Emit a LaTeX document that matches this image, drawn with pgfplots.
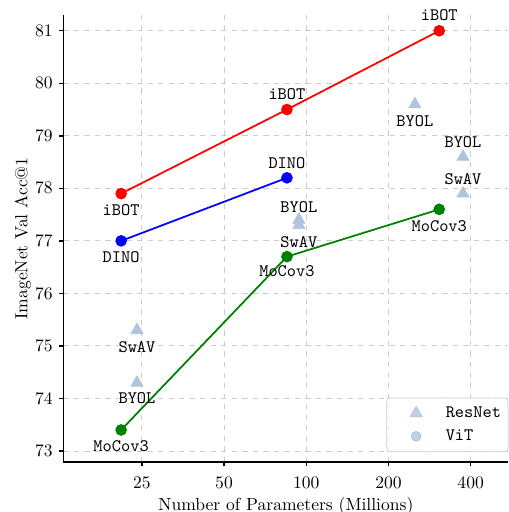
\documentclass[border=0pt]{standalone}
\usepackage{pgfplots}
\pgfplotsset{compat=1.18}
\definecolor{lsb}{RGB}{176,196,222}
\definecolor{gridc}{RGB}{204,204,204}
\definecolor{mplgreen}{RGB}{0,128,0}
\pgfplotsset{padmark/.style={legend image code/.code={\path[draw=none,fill=none] (-14.8pt,0pt) rectangle (4pt,0.1pt); \draw[##1, only marks] plot coordinates {(0pt,0pt)};}}}
\begin{document}
\begin{tikzpicture}
\begin{axis}[
 name=ax,
 scale only axis, width=253.7pt, height=254.8pt,
 xmode=log, log basis x=2,
 xmin=12.9, xmax=550, ymin=72.79, ymax=81.3,
 xtick={25,50,100,200,400}, xticklabels={25,50,100,200,400},
 ytick={73,74,75,76,77,78,79,80,81},
 axis x line*=bottom, axis y line*=left,
 axis line style={-, line width=0.8pt},
 tick align=outside, major tick length=2.5pt,
 tick style={black, line width=0.8pt},
 xticklabel style={yshift=-2.3pt},
 xlabel shift=-2.3pt,
 ylabel shift=-4.5pt,
 grid=major, major grid style={gridc, dashed, line width=0.5pt},
 xlabel={Number of Parameters (Millions)},
 ylabel={ImageNet Val Acc@1},
 legend style={at={(1,0.022)}, anchor=south east, draw=black!20, rounded corners=2pt,
   fill=white, fill opacity=0.8, text opacity=1, font=\ttfamily, row sep=1.5pt,
   inner xsep=2pt, inner ysep=3pt,
   /tikz/every odd column/.append style={column sep=10.9pt}},
 legend cell align=left,
 clip=false,
]
\addlegendimage{lsb, mark=triangle*, mark size=4pt, padmark}
\addlegendentry{ResNet}
\addlegendimage{lsb, mark=*, mark size=2.8pt, padmark}
\addlegendentry{ViT\hphantom{Net}}

\addplot[only marks, mark=triangle*, mark size=4pt, color=lsb] coordinates {
 (24,74.3) (24,75.3) (94,77.4) (94,77.3) (250,79.6) (375,78.6) (375,77.9)};

\addplot[red, line width=1pt, mark=*, mark size=2.8pt] coordinates {(21,77.9) (85,79.5) (307,81.0)};
\addplot[blue, line width=1pt, mark=*, mark size=2.8pt] coordinates {(21,77.0) (85,78.2)};
\addplot[mplgreen, line width=1pt, mark=*, mark size=2.8pt] coordinates {(21,73.4) (85,76.7) (307,77.6)};

\begin{scope}[every node/.style={font=\ttfamily}]
\node[yshift=-9.5pt] at (axis cs:21,77.9) {iBOT};
\node[yshift=8.5pt] at (axis cs:85,79.5) {iBOT};
\node[yshift=9pt] at (axis cs:307,81.0) {iBOT};
\node[yshift=-9pt] at (axis cs:21,77.0) {DINO};
\node[yshift=8.5pt] at (axis cs:85,78.2) {DINO};
\node[yshift=-9.5pt] at (axis cs:21,73.4) {MoCov3};
\node[yshift=-8.5pt] at (axis cs:85,76.7) {MoCov3};
\node[yshift=-9.5pt] at (axis cs:307,77.6) {MoCov3};
\node[yshift=-9.5pt] at (axis cs:24,75.3) {SwAV};
\node[yshift=-9pt] at (axis cs:24,74.3) {BYOL};
\node[yshift=7.5pt] at (axis cs:94,77.4) {BYOL};
\node[yshift=-9.5pt] at (axis cs:94,77.3) {SwAV};
\node[yshift=-9.5pt] at (axis cs:250,79.6) {BYOL};
\node[yshift=8.5pt] at (axis cs:375,78.6) {BYOL};
\node[yshift=8pt] at (axis cs:375,77.9) {SwAV};
\end{scope}
\end{axis}
\pgfresetboundingbox
\path[use as bounding box] ([shift={(-36.1pt,-28.5pt)}]ax.south west) rectangle ([shift={(0pt,8.55pt)}]ax.north east);
\end{tikzpicture}
\end{document}
